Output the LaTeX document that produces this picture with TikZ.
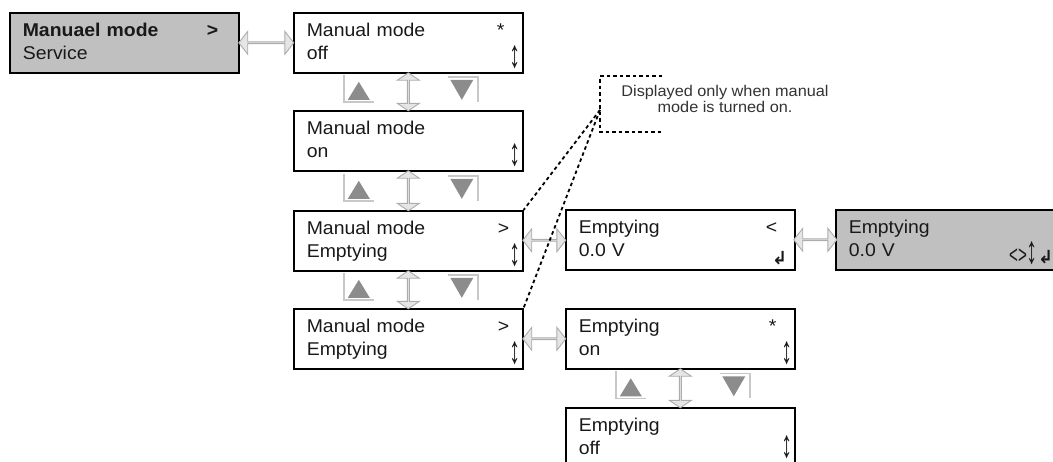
\documentclass[tikz,border=0pt]{standalone}
\usepackage{fontspec}
\setmainfont{Liberation Sans}[FakeStretch=1.05]
\newfontfamily\symfont{DejaVu Sans}
\usetikzlibrary{shapes.arrows,calc}

\definecolor{keygray}{HTML}{8C8C8C}
\definecolor{framegray}{HTML}{C8C8C8}
\definecolor{litgray}{HTML}{C0C0C0}
\newcommand\screenfont{\fontsize{18.5}{23}\selectfont}
\newcommand\retkey{{\symfont\bfseries\fontsize{18}{18}\selectfont ↲}}
\newcommand\selkey{\scalebox{1.15}[2.1]{↕}}

\tikzset{
  screen/.style={draw=black, line width=1.6pt, anchor=north west,
    text width=203pt, inner xsep=13pt, inner ysep=0pt, minimum height=60pt,
    align=left, text height=13.4pt, text depth=25.4pt,
    font=\screenfont, text=black!90},
  active/.style={fill=litgray},
  corner/.style={inner sep=0pt, font=\screenfont, text=black!90},
  hlink/.style={double arrow, draw=gray!65, fill=gray!20, line width=0.9pt,
    inner sep=0pt, minimum width=23pt, double arrow head extend=5.5pt,
    double arrow tip angle=104},
  vlink/.style={hlink, minimum width=22pt, double arrow head extend=4.5pt,
    double arrow tip angle=112, shape border rotate=90},
  keyframe/.style={draw=framegray, line width=1.5pt},
  callout/.style={line width=1.8pt, dash pattern=on 3.5pt off 3pt},
  navkeys/.pic={
    % up key
    \draw[keyframe] (-64.5,-17) -- (-64.5,10) -- (-34.5,10);
    \fill[keygray] (-60.5,8) -- (-38.5,8) -- (-49.5,-10) -- cycle;
    % down key
    \draw[keyframe] (39.5,-15) -- (69.5,-15) -- (69.5,10);
    \fill[keygray] (42,-12) -- (65,-12) -- (53.5,8) -- cycle;
  }
}

\begin{document}
\begin{tikzpicture}[x=1pt,y=-1pt]
  \path[use as bounding box] (0,0) rectangle (1053,461);
  \clip (0,0) rectangle (1053,461);

  % screens
  \node[screen,active] (mmsvc) at (9,12) {\textbf{Manuael mode}\\Service};
  \node[screen] (mmoff) at (293,12) {Manual mode\\off};
  \node[screen] (mmon) at (293,110) {Manual mode\\on};
  \node[screen] (mmemp) at (293,210) {Manual mode\\Emptying};
  \node[screen] (mmemptwo) at (293,308) {Manual mode\\Emptying};
  \node[screen] (empval) at (565,209) {Emptying\\0.0 V};
  \node[screen,active] (empedit) at (835,209) {Emptying\\0.0 V};
  \node[screen] (empon) at (565,308) {Emptying\\on};
  \node[screen] (empoff) at (565,407) {Emptying\\off};

  % marks in the screens
  \node[corner,anchor=base,font=\screenfont\bfseries] (svcnext) at ([shift={(-27,24)}]mmsvc.north east) {>};
  \node[corner,anchor=base] (offstar) at ([shift={(-23,24)}]mmoff.north east) {*};
  \node[corner] (offsel) at ([shift={(-9,-16)}]mmoff.south east) {\selkey};
  \node[corner] (onsel) at ([shift={(-9,-16)}]mmon.south east) {\selkey};
  \node[corner,anchor=base] (empnext) at ([shift={(-20,24)}]mmemp.north east) {>};
  \node[corner] (empsel) at ([shift={(-9,-16)}]mmemp.south east) {\selkey};
  \node[corner,anchor=base] (emptwonext) at ([shift={(-20,24)}]mmemptwo.north east) {>};
  \node[corner] (emptwosel) at ([shift={(-9,-16)}]mmemptwo.south east) {\selkey};
  \node[corner,anchor=base] (valback) at ([shift={(-24,24)}]empval.north east) {<};
  \node[corner] (valret) at ([shift={(-16,-12)}]empval.south east) {\retkey};
  \node[corner,anchor=base west] (editkeys) at ([shift={(174,-7)}]empedit.south west)
    {\scalebox{0.6}[1.05]{\fontsize{24}{24}\selectfont <>}\selkey\retkey};
  \node[corner,anchor=base] (onstar) at ([shift={(-23,24)}]empon.north east) {*};
  \node[corner] (onsel2) at ([shift={(-9,-16)}]empon.south east) {\selkey};
  \node[corner] (offsel2) at ([shift={(-9,-21)}]empoff.south east) {\selkey};

  % links between screens
  \path (mmsvc.east) -- (mmoff.west) node[midway,hlink,minimum height=55pt] (svclink) {};
  \path (mmemp.east) -- (empval.west) node[midway,hlink,minimum height=43pt] (emplink) {};
  \path (empval.east) -- (empedit.west) node[midway,hlink,minimum height=43pt] (editlink) {};
  \path (mmemptwo.east) -- (empon.west) node[midway,hlink,minimum height=43pt] (onlink) {};

  \path (mmoff.south) -- (mmon.north) node[midway,vlink,minimum height=38pt] (offonlink) {};
  \path (mmon.south) -- (mmemp.north) node[midway,vlink,minimum height=40pt] (onemplink) {};
  \path (mmemp.south) -- (mmemptwo.north) node[midway,vlink,minimum height=38pt] (emptwolink) {};
  \path (empon.south) -- (empoff.north) node[midway,vlink,minimum height=39pt] (onofflink) {};

  % up and down keys
  \pic at ($(mmoff.south)!0.5!(mmon.north)$) {navkeys};
  \pic at ($(mmon.south)!0.5!(mmemp.north)$) {navkeys};
  \pic at ($(mmemp.south)!0.5!(mmemptwo.north)$) {navkeys};
  \pic at ($(empon.south)!0.5!(empoff.north)$) {navkeys};

  % note on the manual mode screens
  \node[align=center, font=\fontsize{15.5}{16}\selectfont, text=black!80,
    text height=27pt, text depth=0pt, inner sep=0pt] (note) at (725,98.5)
    {Displayed only when manual\\mode is turned on.};
  \coordinate (notetip) at (600,110);
  \draw[callout] (662,76) -- (600,76) -- (600,132) -- (662,132);
  \draw[callout] (notetip) -- (mmemp.north east);
  \draw[callout] (notetip) -- (mmemptwo.north east);
\end{tikzpicture}
\end{document}
